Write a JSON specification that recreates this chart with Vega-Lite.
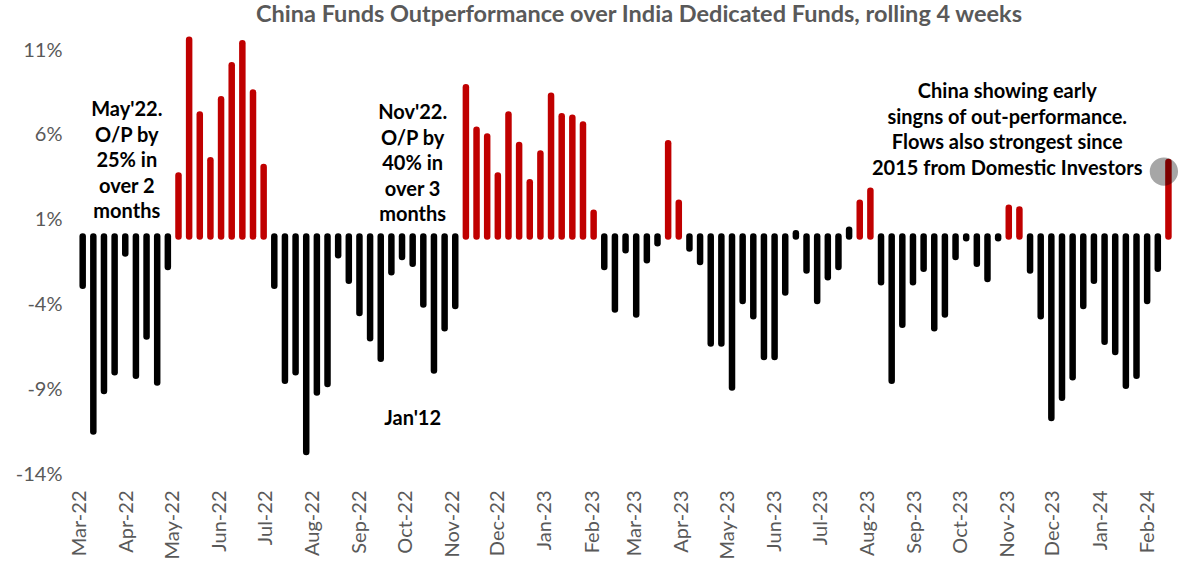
{
  "$schema": "https://vega.github.io/schema/vega-lite/v6.json",
  "autosize": {"type": "none"},
  "width": 1104,
  "height": 424,
  "padding": {"left": 69, "top": 50, "right": 5, "bottom": 94},
  "background": "white",
  "config": {"view": {"stroke": null}, "font": "Lato"},
  "title": {
    "text": "China Funds Outperformance over India Dedicated Funds, rolling 4 weeks",
    "font": "Lato", "fontSize": 23.5, "fontWeight": "bold", "color": "#595959",
    "anchor": "middle", "dx": 18, "offset": 10
  },
  "datasets": {
    "flows": [
      {"date": "2022-03-03", "value": -0.029}, {"date": "2022-03-10", "value": -0.115}, {"date": "2022-03-17", "value": -0.091},
      {"date": "2022-03-24", "value": -0.080}, {"date": "2022-03-31", "value": -0.010}, {"date": "2022-04-07", "value": -0.082},
      {"date": "2022-04-14", "value": -0.059}, {"date": "2022-04-21", "value": -0.086}, {"date": "2022-04-28", "value": -0.018},
      {"date": "2022-05-05", "value": 0.036}, {"date": "2022-05-12", "value": 0.116}, {"date": "2022-05-19", "value": 0.072},
      {"date": "2022-05-26", "value": 0.045}, {"date": "2022-06-02", "value": 0.081}, {"date": "2022-06-09", "value": 0.101},
      {"date": "2022-06-16", "value": 0.114}, {"date": "2022-06-23", "value": 0.085}, {"date": "2022-06-30", "value": 0.041},
      {"date": "2022-07-07", "value": -0.029}, {"date": "2022-07-14", "value": -0.085}, {"date": "2022-07-21", "value": -0.080},
      {"date": "2022-07-28", "value": -0.127}, {"date": "2022-08-04", "value": -0.092}, {"date": "2022-08-11", "value": -0.087},
      {"date": "2022-08-18", "value": -0.011}, {"date": "2022-08-25", "value": -0.026}, {"date": "2022-09-01", "value": -0.045},
      {"date": "2022-09-08", "value": -0.060}, {"date": "2022-09-15", "value": -0.072}, {"date": "2022-09-22", "value": -0.021},
      {"date": "2022-09-29", "value": -0.012}, {"date": "2022-10-06", "value": -0.016}, {"date": "2022-10-13", "value": -0.040},
      {"date": "2022-10-20", "value": -0.079}, {"date": "2022-10-27", "value": -0.054}, {"date": "2022-11-03", "value": -0.041},
      {"date": "2022-11-10", "value": 0.088}, {"date": "2022-11-17", "value": 0.063}, {"date": "2022-11-24", "value": 0.059},
      {"date": "2022-12-01", "value": 0.036}, {"date": "2022-12-08", "value": 0.072}, {"date": "2022-12-15", "value": 0.054},
      {"date": "2022-12-22", "value": 0.032}, {"date": "2022-12-29", "value": 0.049}, {"date": "2023-01-05", "value": 0.083},
      {"date": "2023-01-12", "value": 0.071}, {"date": "2023-01-19", "value": 0.070}, {"date": "2023-01-26", "value": 0.066},
      {"date": "2023-02-02", "value": 0.014}, {"date": "2023-02-09", "value": -0.018}, {"date": "2023-02-16", "value": -0.043},
      {"date": "2023-02-23", "value": -0.008}, {"date": "2023-03-02", "value": -0.046}, {"date": "2023-03-09", "value": -0.014},
      {"date": "2023-03-16", "value": -0.004}, {"date": "2023-03-23", "value": 0.055}, {"date": "2023-03-30", "value": 0.020},
      {"date": "2023-04-06", "value": -0.007}, {"date": "2023-04-13", "value": -0.015}, {"date": "2023-04-20", "value": -0.063},
      {"date": "2023-04-27", "value": -0.063}, {"date": "2023-05-04", "value": -0.089}, {"date": "2023-05-11", "value": -0.038},
      {"date": "2023-05-18", "value": -0.047}, {"date": "2023-05-25", "value": -0.071}, {"date": "2023-06-01", "value": -0.071},
      {"date": "2023-06-08", "value": -0.033}, {"date": "2023-06-15", "value": 0.002}, {"date": "2023-06-22", "value": -0.020},
      {"date": "2023-06-29", "value": -0.038}, {"date": "2023-07-06", "value": -0.024}, {"date": "2023-07-13", "value": -0.018},
      {"date": "2023-07-20", "value": 0.004}, {"date": "2023-07-27", "value": 0.020}, {"date": "2023-08-03", "value": 0.027},
      {"date": "2023-08-10", "value": -0.027}, {"date": "2023-08-17", "value": -0.085}, {"date": "2023-08-24", "value": -0.052},
      {"date": "2023-08-31", "value": -0.027}, {"date": "2023-09-07", "value": -0.019}, {"date": "2023-09-14", "value": -0.054},
      {"date": "2023-09-21", "value": -0.046}, {"date": "2023-09-28", "value": -0.012}, {"date": "2023-10-05", "value": -0.001},
      {"date": "2023-10-12", "value": -0.016}, {"date": "2023-10-19", "value": -0.025}, {"date": "2023-10-26", "value": -0.001},
      {"date": "2023-11-02", "value": 0.017}, {"date": "2023-11-09", "value": 0.016}, {"date": "2023-11-16", "value": -0.020},
      {"date": "2023-11-23", "value": -0.047}, {"date": "2023-11-30", "value": -0.107}, {"date": "2023-12-07", "value": -0.095},
      {"date": "2023-12-14", "value": -0.083}, {"date": "2023-12-21", "value": -0.041}, {"date": "2023-12-28", "value": -0.026},
      {"date": "2024-01-04", "value": -0.062}, {"date": "2024-01-11", "value": -0.068}, {"date": "2024-01-18", "value": -0.088},
      {"date": "2024-01-25", "value": -0.082}, {"date": "2024-02-01", "value": -0.038}, {"date": "2024-02-08", "value": -0.019},
      {"date": "2024-02-15", "value": 0.044}
    ],
    "notes": [
      {"date": "2022-04-01", "value": 0.0804, "label": "May'22.\nO/P by\n25% in\nover 2\nmonths"},
      {"date": "2022-10-06", "value": 0.0785, "label": "Nov'22.\nO/P by\n40% in\nover 3\nmonths"},
      {"date": "2022-10-06", "value": -0.1017, "label": "Jan'12"},
      {"date": "2023-11-01", "value": 0.0909, "label": "China showing early\nsingns of out-performance.\nFlows also strongest since\n2015 from Domestic Investors"}
    ],
    "highlight": [
      {"date": "2024-02-12", "value": 0.0383}
    ]
  },
  "encoding": {
    "x": {
      "field": "date", "type": "temporal",
      "scale": {"type": "utc", "domain": [{"year": 2022, "month": "feb", "date": 22, "utc": true}, {"year": 2024, "month": "feb", "date": 18, "utc": true}], "nice": false},
      "axis": {
        "title": null, "domain": false, "ticks": false, "tickSize": 0, "grid": false,
        "tickCount": {"interval": "month", "step": 1},
        "labelExpr": "utcFormat(datum.value, '%b-%y')",
        "labelAngle": 270, "labelAlign": "right", "labelBaseline": "middle",
        "labelPadding": 16, "labelFont": "Lato", "labelFontSize": 20, "labelColor": "#595959",
        "labelOverlap": false, "labelFlush": false
      }
    },
    "y": {
      "field": "value", "type": "quantitative",
      "scale": {"domain": [-0.14, 0.11], "nice": false, "zero": false},
      "axis": {
        "title": null, "domain": false, "ticks": false, "tickSize": 0, "grid": false,
        "values": [-0.14, -0.09, -0.04, 0.01, 0.06, 0.11],
        "labelExpr": "(datum.value < 0 ? '-' : '') + format(abs(datum.value) * 100, '.0f') + '%'",
        "labelPadding": 7, "labelFont": "Lato", "labelFontSize": 20, "labelColor": "#595959"
      }
    }
  },
  "layer": [
    {
      "data": {"name": "flows"},
      "mark": {"type": "rule", "strokeWidth": 6.5, "strokeCap": "round"},
      "encoding": {
        "y2": {"datum": 0},
        "color": {"condition": {"test": "datum.value > 0.01", "value": "#C00000"}, "value": "#000000"}
      }
    },
    {
      "data": {"name": "highlight"},
      "mark": {"type": "point", "shape": "circle", "filled": true, "size": 800, "color": "#000000", "opacity": 0.35}
    },
    {
      "data": {"name": "notes"},
      "mark": {"type": "text", "font": "Lato", "fontSize": 20, "fontWeight": "bold", "color": "#000000", "align": "center", "baseline": "top", "lineBreak": "\n", "lineHeight": 25.5},
      "encoding": {"text": {"field": "label"}}
    }
  ]
}
